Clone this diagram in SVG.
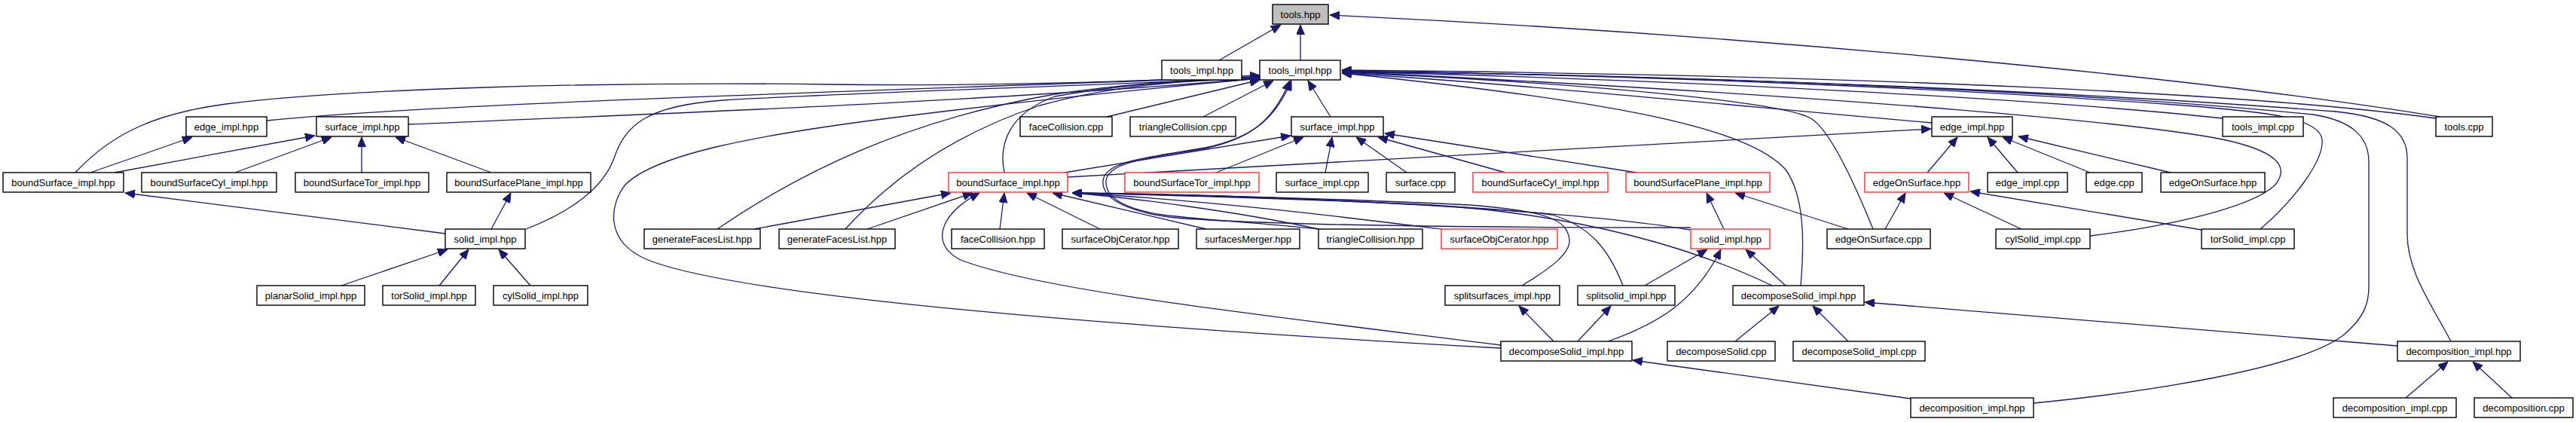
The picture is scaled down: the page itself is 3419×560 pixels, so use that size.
<svg xmlns="http://www.w3.org/2000/svg" width="3419" height="560" viewBox="0 0 3419 560">
<style>
.n rect{fill:#fff;stroke:#000;stroke-width:1.4}
.n.r rect{stroke:#ff3030}
.n.root rect{fill:#bfbfbf}
.n text{font-family:"Liberation Sans",Arial,sans-serif;font-size:13px;text-anchor:middle;fill:#000}
#edges path{fill:none;stroke:#191970;stroke-width:1.3;marker-end:url(#ah)}
</style>
<defs>
<marker id="ah" viewBox="0 0 13 11" refX="13" refY="5.5" markerWidth="13" markerHeight="11" markerUnits="userSpaceOnUse" orient="auto"><path d="M0,0 L13,5.5 L0,11 z" fill="#191970" stroke="#191970" stroke-width="1"/></marker>
</defs>
<rect width="3419" height="560" fill="#fff"/>
<g id="edges">
<path d="M1618,80 L1700,33"/>
<path d="M1726,80 L1726,33"/>
<path d="M3238,155 C2900,100 2300,45 1765,20"/>
<path d="M100,229 C150,175 210,150 300,138 C450,118 800,108 1100,112 C1350,115 1550,106 1672,100"/>
<path d="M354,160 C550,140 1000,125 1672,102"/>
<path d="M542,165 C900,150 1300,135 1672,104"/>
<path d="M698,304 C760,280 800,250 815,210 C830,165 860,140 960,133 C1150,122 1500,112 1672,103"/>
<path d="M1992,462 C1600,440 1000,400 860,345 C800,320 810,270 830,245 C870,205 1000,180 1171,158 C1350,135 1550,115 1672,104"/>
<path d="M952,304 C1060,230 1200,160 1400,125 C1500,110 1600,105 1672,104"/>
<path d="M1122,304 C1180,240 1260,180 1380,140 C1480,112 1580,105 1672,105"/>
<path d="M1333,229 C1325,190 1340,150 1400,128 C1500,110 1600,105 1672,105"/>
<path d="M1469,155 L1672,106"/>
<path d="M1597,155 L1690,107"/>
<path d="M1766,155 L1736,107"/>
<path d="M1750,304 C1680,296 1600,292 1560,287 C1500,281 1466,265 1468,240 C1470,214 1530,209 1600,197 C1660,184 1690,160 1712,107"/>
<path d="M2244,302 C2000,302 1700,300 1560,289 C1500,282 1462,265 1464,240 C1466,213 1530,208 1600,196 C1660,183 1692,160 1714,107"/>
<path d="M2564,163 C2300,140 2000,110 1781,97"/>
<path d="M2950,157 C2700,130 2200,105 1781,95"/>
<path d="M3233,157 C3000,125 2500,100 1781,93"/>
<path d="M2486,304 C2460,240 2430,175 2405,158 C2370,135 2100,110 1781,96"/>
<path d="M2390,379 C2395,320 2395,260 2370,225 C2320,170 2150,135 1781,97"/>
<path d="M2774,313 C2880,300 2990,275 3020,245 C3040,220 3020,200 2950,185 C2850,165 2500,130 1781,95"/>
<path d="M3000,304 C3040,270 3085,215 3082,185 C3078,155 3000,148 2900,140 C2600,118 2200,100 1781,94"/>
<path d="M2699,535 C2850,520 3050,490 3110,445 C3140,420 3144,400 3144,380 L3144,215 C3144,180 3120,160 3070,152 C2800,125 2300,100 1781,95"/>
<path d="M3253,453 C3225,400 3195,360 3195,310 L3195,210 C3195,175 3170,155 3100,148 C2800,125 2300,100 1781,95"/>
<path d="M120,229 L255,182"/>
<path d="M152,229 L418,180"/>
<path d="M312,229 L440,182"/>
<path d="M480,229 L480,182"/>
<path d="M652,229 L525,182"/>
<path d="M591,310 L166,256"/>
<path d="M652,304 L678,256"/>
<path d="M453,379 L594,331"/>
<path d="M583,379 L622,331"/>
<path d="M704,379 L662,331"/>
<path d="M1413,229 L1713,180"/>
<path d="M1614,229 L1730,182"/>
<path d="M1759,229 L1768,182"/>
<path d="M1867,229 L1800,182"/>
<path d="M1998,229 L1829,182"/>
<path d="M2172,229 L1838,177"/>
<path d="M1417,235 L2563,171"/>
<path d="M2558,229 L2598,182"/>
<path d="M2678,229 L2638,182"/>
<path d="M2774,229 L2658,182"/>
<path d="M2881,229 L2679,181"/>
<path d="M1001,304 L1262,256"/>
<path d="M1151,304 L1291,256"/>
<path d="M1992,458 C1650,415 1380,385 1275,345 C1235,325 1245,285 1300,256"/>
<path d="M1327,304 L1333,256"/>
<path d="M1460,304 L1363,256"/>
<path d="M1601,304 L1397,256"/>
<path d="M1750,304 C1650,282 1500,262 1423,256"/>
<path d="M1913,304 C1800,290 1600,265 1423,256"/>
<path d="M2243,305 C2100,280 1700,258 1423,256"/>
<path d="M2020,379 C2060,355 2085,335 2083,318 C2080,290 2050,280 1950,272 C1750,262 1550,258 1423,256"/>
<path d="M2154,379 C2135,330 2110,300 2060,285 C1950,270 1600,260 1423,256"/>
<path d="M2352,379 C2250,330 2100,285 1900,272 C1700,262 1550,258 1423,256"/>
<path d="M2288,304 L2265,256"/>
<path d="M2453,304 L2303,256"/>
<path d="M2502,304 L2529,256"/>
<path d="M2683,304 L2580,256"/>
<path d="M2922,305 L2615,254"/>
<path d="M2183,379 L2266,331"/>
<path d="M2134,453 C2200,430 2250,400 2284,331"/>
<path d="M2370,379 L2317,331"/>
<path d="M2303,453 L2361,406"/>
<path d="M2453,453 L2406,406"/>
<path d="M3182,459 L2475,401"/>
<path d="M2094,453 L2138,406"/>
<path d="M2062,453 L2016,406"/>
<path d="M2536,529 L2167,478"/>
<path d="M3193,528 L3249,480"/>
<path d="M3334,528 L3282,480"/>
</g>
<g id="nodes">
<g id="tools_hpp" class="n root"><rect x="1689" y="6" width="74" height="26"/><text x="1726" y="24">tools.hpp</text></g>
<g id="tools_impl_hpp_a" class="n"><rect x="1542" y="80" width="106" height="26"/><text x="1595" y="98">tools_impl.hpp</text></g>
<g id="tools_impl_hpp_b" class="n"><rect x="1672" y="80" width="107" height="26"/><text x="1725.5" y="98">tools_impl.hpp</text></g>
<g id="edge_impl_hpp_l" class="n"><rect x="247" y="155" width="107" height="26"/><text x="300.5" y="173">edge_impl.hpp</text></g>
<g id="surface_impl_hpp_l" class="n"><rect x="420" y="155" width="122" height="26"/><text x="481" y="173">surface_impl.hpp</text></g>
<g id="faceCollision_cpp" class="n"><rect x="1354" y="155" width="122" height="26"/><text x="1415" y="173">faceCollision.cpp</text></g>
<g id="triangleCollision_cpp" class="n"><rect x="1500" y="155" width="140" height="26"/><text x="1570" y="173">triangleCollision.cpp</text></g>
<g id="surface_impl_hpp_m" class="n"><rect x="1714" y="155" width="122" height="26"/><text x="1775" y="173">surface_impl.hpp</text></g>
<g id="edge_impl_hpp_r" class="n"><rect x="2564" y="155" width="107" height="26"/><text x="2617.5" y="173">edge_impl.hpp</text></g>
<g id="tools_impl_cpp" class="n"><rect x="2950" y="155" width="107" height="26"/><text x="3003.5" y="173">tools_impl.cpp</text></g>
<g id="tools_cpp" class="n"><rect x="3233" y="155" width="75" height="26"/><text x="3270.5" y="173">tools.cpp</text></g>
<g id="boundSurface_impl_hpp_l" class="n"><rect x="4" y="229" width="160" height="26"/><text x="84" y="247">boundSurface_impl.hpp</text></g>
<g id="boundSurfaceCyl_impl_hpp_l" class="n"><rect x="188" y="229" width="179" height="26"/><text x="277.5" y="247">boundSurfaceCyl_impl.hpp</text></g>
<g id="boundSurfaceTor_impl_hpp_l" class="n"><rect x="392" y="229" width="177" height="26"/><text x="480.5" y="247">boundSurfaceTor_impl.hpp</text></g>
<g id="boundSurfacePlane_impl_hpp_l" class="n"><rect x="593" y="229" width="191" height="26"/><text x="688.5" y="247">boundSurfacePlane_impl.hpp</text></g>
<g id="boundSurface_impl_hpp_m" class="n r"><rect x="1259" y="229" width="158" height="26"/><text x="1338" y="247">boundSurface_impl.hpp</text></g>
<g id="boundSurfaceTor_impl_hpp_m" class="n r"><rect x="1493" y="229" width="178" height="26"/><text x="1582" y="247">boundSurfaceTor_impl.hpp</text></g>
<g id="surface_impl_cpp" class="n"><rect x="1694" y="229" width="122" height="26"/><text x="1755" y="247">surface_impl.cpp</text></g>
<g id="surface_cpp" class="n"><rect x="1840" y="229" width="91" height="26"/><text x="1885.5" y="247">surface.cpp</text></g>
<g id="boundSurfaceCyl_impl_hpp_m" class="n r"><rect x="1955" y="229" width="179" height="26"/><text x="2044.5" y="247">boundSurfaceCyl_impl.hpp</text></g>
<g id="boundSurfacePlane_impl_hpp_m" class="n r"><rect x="2158" y="229" width="191" height="26"/><text x="2253.5" y="247">boundSurfacePlane_impl.hpp</text></g>
<g id="edgeOnSurface_hpp_m" class="n r"><rect x="2475" y="229" width="138" height="26"/><text x="2544" y="247">edgeOnSurface.hpp</text></g>
<g id="edge_impl_cpp" class="n"><rect x="2638" y="229" width="106" height="26"/><text x="2691" y="247">edge_impl.cpp</text></g>
<g id="edge_cpp" class="n"><rect x="2769" y="229" width="74" height="26"/><text x="2806" y="247">edge.cpp</text></g>
<g id="edgeOnSurface_hpp_r" class="n"><rect x="2868" y="229" width="138" height="26"/><text x="2937" y="247">edgeOnSurface.hpp</text></g>
<g id="solid_impl_hpp_l" class="n"><rect x="591" y="304" width="106" height="26"/><text x="644" y="322">solid_impl.hpp</text></g>
<g id="generateFacesList_hpp_1" class="n"><rect x="855" y="304" width="154" height="26"/><text x="932" y="322">generateFacesList.hpp</text></g>
<g id="generateFacesList_hpp_2" class="n"><rect x="1034" y="304" width="154" height="26"/><text x="1111" y="322">generateFacesList.hpp</text></g>
<g id="faceCollision_hpp" class="n"><rect x="1263" y="304" width="123" height="26"/><text x="1324.5" y="322">faceCollision.hpp</text></g>
<g id="surfaceObjCerator_hpp_1" class="n"><rect x="1410" y="304" width="154" height="26"/><text x="1487" y="322">surfaceObjCerator.hpp</text></g>
<g id="surfacesMerger_hpp" class="n"><rect x="1588" y="304" width="137" height="26"/><text x="1656.5" y="322">surfacesMerger.hpp</text></g>
<g id="triangleCollision_hpp" class="n"><rect x="1750" y="304" width="138" height="26"/><text x="1819" y="322">triangleCollision.hpp</text></g>
<g id="surfaceObjCerator_hpp_2" class="n r"><rect x="1913" y="304" width="154" height="26"/><text x="1990" y="322">surfaceObjCerator.hpp</text></g>
<g id="solid_impl_hpp_m" class="n r"><rect x="2244" y="304" width="105" height="26"/><text x="2296.5" y="322">solid_impl.hpp</text></g>
<g id="edgeOnSurface_cpp" class="n"><rect x="2425" y="304" width="137" height="26"/><text x="2493.5" y="322">edgeOnSurface.cpp</text></g>
<g id="cylSolid_impl_cpp" class="n"><rect x="2649" y="304" width="125" height="26"/><text x="2711.5" y="322">cylSolid_impl.cpp</text></g>
<g id="torSolid_impl_cpp" class="n"><rect x="2922" y="304" width="123" height="26"/><text x="2983.5" y="322">torSolid_impl.cpp</text></g>
<g id="planarSolid_impl_hpp" class="n"><rect x="341" y="379" width="143" height="26"/><text x="412.5" y="397">planarSolid_impl.hpp</text></g>
<g id="torSolid_impl_hpp" class="n"><rect x="508" y="379" width="123" height="26"/><text x="569.5" y="397">torSolid_impl.hpp</text></g>
<g id="cylSolid_impl_hpp" class="n"><rect x="655" y="379" width="125" height="26"/><text x="717.5" y="397">cylSolid_impl.hpp</text></g>
<g id="splitsurfaces_impl_hpp" class="n"><rect x="1918" y="379" width="152" height="26"/><text x="1994" y="397">splitsurfaces_impl.hpp</text></g>
<g id="splitsolid_impl_hpp" class="n"><rect x="2094" y="379" width="129" height="26"/><text x="2158.5" y="397">splitsolid_impl.hpp</text></g>
<g id="decomposeSolid_impl_hpp_5" class="n"><rect x="2300" y="379" width="174" height="26"/><text x="2387" y="397">decomposeSolid_impl.hpp</text></g>
<g id="decomposeSolid_impl_hpp_6" class="n"><rect x="1992" y="453" width="174" height="26"/><text x="2079" y="471">decomposeSolid_impl.hpp</text></g>
<g id="decomposeSolid_cpp" class="n"><rect x="2213" y="453" width="143" height="26"/><text x="2284.5" y="471">decomposeSolid.cpp</text></g>
<g id="decomposeSolid_impl_cpp" class="n"><rect x="2380" y="453" width="175" height="26"/><text x="2467.5" y="471">decomposeSolid_impl.cpp</text></g>
<g id="decomposition_impl_hpp_r" class="n"><rect x="3182" y="453" width="163" height="26"/><text x="3263.5" y="471">decomposition_impl.hpp</text></g>
<g id="decomposition_impl_hpp_7" class="n"><rect x="2536" y="528" width="163" height="26"/><text x="2617.5" y="546">decomposition_impl.hpp</text></g>
<g id="decomposition_impl_cpp" class="n"><rect x="3097" y="528" width="163" height="26"/><text x="3178.5" y="546">decomposition_impl.cpp</text></g>
<g id="decomposition_cpp" class="n"><rect x="3284" y="528" width="131" height="26"/><text x="3349.5" y="546">decomposition.cpp</text></g>
</g>
</svg>
